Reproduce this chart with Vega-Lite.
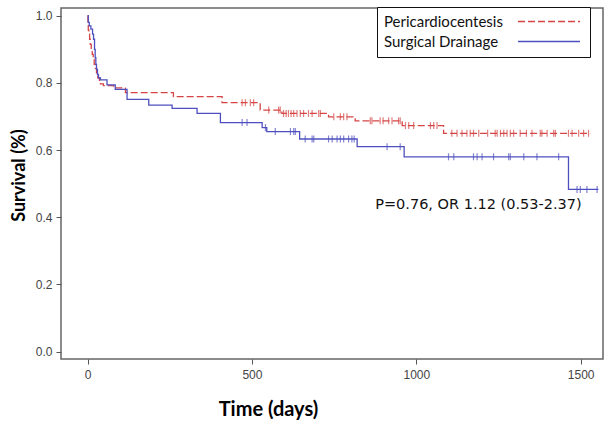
{
  "$schema": "https://vega.github.io/schema/vega-lite/v6.json",
  "width": 542,
  "height": 351,
  "autosize": {"type": "none"},
  "padding": {"left": 61, "top": 8, "right": 9, "bottom": 67},
  "background": "white",
  "config": {
    "view": {"stroke": "#666", "strokeWidth": 1.5},
    "axis": {
      "domain": false, "grid": false, "tickColor": "#555", "tickSize": 5, "tickWidth": 1,
      "labelColor": "#444", "labelFont": "Liberation Sans", "labelFontSize": 12,
      "titleFont": "Lato", "titleFontWeight": "bold", "titleColor": "#000"
    }
  },
  "datasets": {
    "km": [
      {"group": "Pericardiocentesis", "kind": "step", "day": 0, "surv": 1.0},
      {"group": "Pericardiocentesis", "kind": "step", "day": 1, "surv": 0.975},
      {"group": "Pericardiocentesis", "kind": "step", "day": 2, "surv": 0.957},
      {"group": "Pericardiocentesis", "kind": "step", "day": 4, "surv": 0.945},
      {"group": "Pericardiocentesis", "kind": "step", "day": 6, "surv": 0.93},
      {"group": "Pericardiocentesis", "kind": "step", "day": 8, "surv": 0.915},
      {"group": "Pericardiocentesis", "kind": "step", "day": 11, "surv": 0.9},
      {"group": "Pericardiocentesis", "kind": "step", "day": 14, "surv": 0.885},
      {"group": "Pericardiocentesis", "kind": "step", "day": 17, "surv": 0.87},
      {"group": "Pericardiocentesis", "kind": "step", "day": 20, "surv": 0.855},
      {"group": "Pericardiocentesis", "kind": "step", "day": 23, "surv": 0.843},
      {"group": "Pericardiocentesis", "kind": "step", "day": 27, "surv": 0.83},
      {"group": "Pericardiocentesis", "kind": "step", "day": 31, "surv": 0.815},
      {"group": "Pericardiocentesis", "kind": "step", "day": 36, "surv": 0.805},
      {"group": "Pericardiocentesis", "kind": "step", "day": 39, "surv": 0.797},
      {"group": "Pericardiocentesis", "kind": "step", "day": 48, "surv": 0.792},
      {"group": "Pericardiocentesis", "kind": "step", "day": 79, "surv": 0.785},
      {"group": "Pericardiocentesis", "kind": "step", "day": 115, "surv": 0.771},
      {"group": "Pericardiocentesis", "kind": "step", "day": 261, "surv": 0.759},
      {"group": "Pericardiocentesis", "kind": "step", "day": 409, "surv": 0.741},
      {"group": "Pericardiocentesis", "kind": "step", "day": 525, "surv": 0.719},
      {"group": "Pericardiocentesis", "kind": "step", "day": 591, "surv": 0.709},
      {"group": "Pericardiocentesis", "kind": "step", "day": 733, "surv": 0.699},
      {"group": "Pericardiocentesis", "kind": "step", "day": 814, "surv": 0.687},
      {"group": "Pericardiocentesis", "kind": "step", "day": 957, "surv": 0.673},
      {"group": "Pericardiocentesis", "kind": "step", "day": 1083, "surv": 0.65},
      {"group": "Pericardiocentesis", "kind": "step", "day": 1529, "surv": 0.65},
      {"group": "Pericardiocentesis", "kind": "censor", "day": 470, "surv": 0.741},
      {"group": "Pericardiocentesis", "kind": "censor", "day": 480, "surv": 0.741},
      {"group": "Pericardiocentesis", "kind": "censor", "day": 495, "surv": 0.741},
      {"group": "Pericardiocentesis", "kind": "censor", "day": 505, "surv": 0.741},
      {"group": "Pericardiocentesis", "kind": "censor", "day": 551, "surv": 0.719},
      {"group": "Pericardiocentesis", "kind": "censor", "day": 581, "surv": 0.719},
      {"group": "Pericardiocentesis", "kind": "censor", "day": 586, "surv": 0.719},
      {"group": "Pericardiocentesis", "kind": "censor", "day": 596, "surv": 0.709},
      {"group": "Pericardiocentesis", "kind": "censor", "day": 604, "surv": 0.709},
      {"group": "Pericardiocentesis", "kind": "censor", "day": 611, "surv": 0.709},
      {"group": "Pericardiocentesis", "kind": "censor", "day": 619, "surv": 0.709},
      {"group": "Pericardiocentesis", "kind": "censor", "day": 627, "surv": 0.709},
      {"group": "Pericardiocentesis", "kind": "censor", "day": 637, "surv": 0.709},
      {"group": "Pericardiocentesis", "kind": "censor", "day": 647, "surv": 0.709},
      {"group": "Pericardiocentesis", "kind": "censor", "day": 657, "surv": 0.709},
      {"group": "Pericardiocentesis", "kind": "censor", "day": 672, "surv": 0.709},
      {"group": "Pericardiocentesis", "kind": "censor", "day": 683, "surv": 0.709},
      {"group": "Pericardiocentesis", "kind": "censor", "day": 703, "surv": 0.709},
      {"group": "Pericardiocentesis", "kind": "censor", "day": 708, "surv": 0.709},
      {"group": "Pericardiocentesis", "kind": "censor", "day": 749, "surv": 0.699},
      {"group": "Pericardiocentesis", "kind": "censor", "day": 769, "surv": 0.699},
      {"group": "Pericardiocentesis", "kind": "censor", "day": 779, "surv": 0.699},
      {"group": "Pericardiocentesis", "kind": "censor", "day": 789, "surv": 0.699},
      {"group": "Pericardiocentesis", "kind": "censor", "day": 860, "surv": 0.687},
      {"group": "Pericardiocentesis", "kind": "censor", "day": 865, "surv": 0.687},
      {"group": "Pericardiocentesis", "kind": "censor", "day": 890, "surv": 0.687},
      {"group": "Pericardiocentesis", "kind": "censor", "day": 899, "surv": 0.687},
      {"group": "Pericardiocentesis", "kind": "censor", "day": 916, "surv": 0.687},
      {"group": "Pericardiocentesis", "kind": "censor", "day": 926, "surv": 0.687},
      {"group": "Pericardiocentesis", "kind": "censor", "day": 946, "surv": 0.687},
      {"group": "Pericardiocentesis", "kind": "censor", "day": 951, "surv": 0.687},
      {"group": "Pericardiocentesis", "kind": "censor", "day": 967, "surv": 0.673},
      {"group": "Pericardiocentesis", "kind": "censor", "day": 977, "surv": 0.673},
      {"group": "Pericardiocentesis", "kind": "censor", "day": 992, "surv": 0.673},
      {"group": "Pericardiocentesis", "kind": "censor", "day": 1043, "surv": 0.673},
      {"group": "Pericardiocentesis", "kind": "censor", "day": 1053, "surv": 0.673},
      {"group": "Pericardiocentesis", "kind": "censor", "day": 1063, "surv": 0.673},
      {"group": "Pericardiocentesis", "kind": "censor", "day": 1108, "surv": 0.65},
      {"group": "Pericardiocentesis", "kind": "censor", "day": 1124, "surv": 0.65},
      {"group": "Pericardiocentesis", "kind": "censor", "day": 1139, "surv": 0.65},
      {"group": "Pericardiocentesis", "kind": "censor", "day": 1154, "surv": 0.65},
      {"group": "Pericardiocentesis", "kind": "censor", "day": 1164, "surv": 0.65},
      {"group": "Pericardiocentesis", "kind": "censor", "day": 1174, "surv": 0.65},
      {"group": "Pericardiocentesis", "kind": "censor", "day": 1190, "surv": 0.65},
      {"group": "Pericardiocentesis", "kind": "censor", "day": 1217, "surv": 0.65},
      {"group": "Pericardiocentesis", "kind": "censor", "day": 1240, "surv": 0.65},
      {"group": "Pericardiocentesis", "kind": "censor", "day": 1246, "surv": 0.65},
      {"group": "Pericardiocentesis", "kind": "censor", "day": 1256, "surv": 0.65},
      {"group": "Pericardiocentesis", "kind": "censor", "day": 1266, "surv": 0.65},
      {"group": "Pericardiocentesis", "kind": "censor", "day": 1276, "surv": 0.65},
      {"group": "Pericardiocentesis", "kind": "censor", "day": 1286, "surv": 0.65},
      {"group": "Pericardiocentesis", "kind": "censor", "day": 1296, "surv": 0.65},
      {"group": "Pericardiocentesis", "kind": "censor", "day": 1316, "surv": 0.65},
      {"group": "Pericardiocentesis", "kind": "censor", "day": 1335, "surv": 0.65},
      {"group": "Pericardiocentesis", "kind": "censor", "day": 1352, "surv": 0.65},
      {"group": "Pericardiocentesis", "kind": "censor", "day": 1377, "surv": 0.65},
      {"group": "Pericardiocentesis", "kind": "censor", "day": 1382, "surv": 0.65},
      {"group": "Pericardiocentesis", "kind": "censor", "day": 1398, "surv": 0.65},
      {"group": "Pericardiocentesis", "kind": "censor", "day": 1418, "surv": 0.65},
      {"group": "Pericardiocentesis", "kind": "censor", "day": 1423, "surv": 0.65},
      {"group": "Pericardiocentesis", "kind": "censor", "day": 1463, "surv": 0.65},
      {"group": "Pericardiocentesis", "kind": "censor", "day": 1474, "surv": 0.65},
      {"group": "Pericardiocentesis", "kind": "censor", "day": 1494, "surv": 0.65},
      {"group": "Pericardiocentesis", "kind": "censor", "day": 1509, "surv": 0.65},
      {"group": "Pericardiocentesis", "kind": "censor", "day": 1524, "surv": 0.65},
      {"group": "Surgical Drainage", "kind": "step", "day": 0, "surv": 1.0},
      {"group": "Surgical Drainage", "kind": "step", "day": 2, "surv": 0.98},
      {"group": "Surgical Drainage", "kind": "step", "day": 5, "surv": 0.97},
      {"group": "Surgical Drainage", "kind": "step", "day": 10, "surv": 0.96},
      {"group": "Surgical Drainage", "kind": "step", "day": 15, "surv": 0.945},
      {"group": "Surgical Drainage", "kind": "step", "day": 18, "surv": 0.93},
      {"group": "Surgical Drainage", "kind": "step", "day": 21, "surv": 0.9},
      {"group": "Surgical Drainage", "kind": "step", "day": 23, "surv": 0.875},
      {"group": "Surgical Drainage", "kind": "step", "day": 25, "surv": 0.855},
      {"group": "Surgical Drainage", "kind": "step", "day": 27, "surv": 0.84},
      {"group": "Surgical Drainage", "kind": "step", "day": 30, "surv": 0.825},
      {"group": "Surgical Drainage", "kind": "step", "day": 33, "surv": 0.815},
      {"group": "Surgical Drainage", "kind": "step", "day": 39, "surv": 0.809},
      {"group": "Surgical Drainage", "kind": "step", "day": 59, "surv": 0.794},
      {"group": "Surgical Drainage", "kind": "step", "day": 84, "surv": 0.781},
      {"group": "Surgical Drainage", "kind": "step", "day": 120, "surv": 0.751},
      {"group": "Surgical Drainage", "kind": "step", "day": 186, "surv": 0.734},
      {"group": "Surgical Drainage", "kind": "step", "day": 257, "surv": 0.724},
      {"group": "Surgical Drainage", "kind": "step", "day": 333, "surv": 0.709},
      {"group": "Surgical Drainage", "kind": "step", "day": 404, "surv": 0.682},
      {"group": "Surgical Drainage", "kind": "step", "day": 531, "surv": 0.667},
      {"group": "Surgical Drainage", "kind": "step", "day": 545, "surv": 0.655},
      {"group": "Surgical Drainage", "kind": "step", "day": 645, "surv": 0.633},
      {"group": "Surgical Drainage", "kind": "step", "day": 820, "surv": 0.61},
      {"group": "Surgical Drainage", "kind": "step", "day": 963, "surv": 0.58},
      {"group": "Surgical Drainage", "kind": "step", "day": 1463, "surv": 0.483},
      {"group": "Surgical Drainage", "kind": "step", "day": 1554, "surv": 0.483},
      {"group": "Surgical Drainage", "kind": "censor", "day": 470, "surv": 0.682},
      {"group": "Surgical Drainage", "kind": "censor", "day": 485, "surv": 0.682},
      {"group": "Surgical Drainage", "kind": "censor", "day": 541, "surv": 0.667},
      {"group": "Surgical Drainage", "kind": "censor", "day": 571, "surv": 0.655},
      {"group": "Surgical Drainage", "kind": "censor", "day": 617, "surv": 0.655},
      {"group": "Surgical Drainage", "kind": "censor", "day": 627, "surv": 0.655},
      {"group": "Surgical Drainage", "kind": "censor", "day": 632, "surv": 0.655},
      {"group": "Surgical Drainage", "kind": "censor", "day": 662, "surv": 0.633},
      {"group": "Surgical Drainage", "kind": "censor", "day": 683, "surv": 0.633},
      {"group": "Surgical Drainage", "kind": "censor", "day": 688, "surv": 0.633},
      {"group": "Surgical Drainage", "kind": "censor", "day": 733, "surv": 0.633},
      {"group": "Surgical Drainage", "kind": "censor", "day": 744, "surv": 0.633},
      {"group": "Surgical Drainage", "kind": "censor", "day": 759, "surv": 0.633},
      {"group": "Surgical Drainage", "kind": "censor", "day": 769, "surv": 0.633},
      {"group": "Surgical Drainage", "kind": "censor", "day": 779, "surv": 0.633},
      {"group": "Surgical Drainage", "kind": "censor", "day": 794, "surv": 0.633},
      {"group": "Surgical Drainage", "kind": "censor", "day": 804, "surv": 0.633},
      {"group": "Surgical Drainage", "kind": "censor", "day": 811, "surv": 0.633},
      {"group": "Surgical Drainage", "kind": "censor", "day": 911, "surv": 0.61},
      {"group": "Surgical Drainage", "kind": "censor", "day": 951, "surv": 0.61},
      {"group": "Surgical Drainage", "kind": "censor", "day": 1098, "surv": 0.58},
      {"group": "Surgical Drainage", "kind": "censor", "day": 1114, "surv": 0.58},
      {"group": "Surgical Drainage", "kind": "censor", "day": 1174, "surv": 0.58},
      {"group": "Surgical Drainage", "kind": "censor", "day": 1185, "surv": 0.58},
      {"group": "Surgical Drainage", "kind": "censor", "day": 1200, "surv": 0.58},
      {"group": "Surgical Drainage", "kind": "censor", "day": 1235, "surv": 0.58},
      {"group": "Surgical Drainage", "kind": "censor", "day": 1281, "surv": 0.58},
      {"group": "Surgical Drainage", "kind": "censor", "day": 1286, "surv": 0.58},
      {"group": "Surgical Drainage", "kind": "censor", "day": 1327, "surv": 0.58},
      {"group": "Surgical Drainage", "kind": "censor", "day": 1367, "surv": 0.58},
      {"group": "Surgical Drainage", "kind": "censor", "day": 1433, "surv": 0.58},
      {"group": "Surgical Drainage", "kind": "censor", "day": 1489, "surv": 0.483},
      {"group": "Surgical Drainage", "kind": "censor", "day": 1499, "surv": 0.483},
      {"group": "Surgical Drainage", "kind": "censor", "day": 1519, "surv": 0.483},
      {"group": "Surgical Drainage", "kind": "censor", "day": 1550, "surv": 0.483}
    ]
  },
  "layer": [
    {
      "data": {"name": "km"},
      "transform": [{"filter": "datum.kind === 'step'"}],
      "mark": {"type": "line", "interpolate": "step-after", "strokeWidth": 1.3},
      "encoding": {
        "x": {
          "field": "day", "type": "quantitative",
          "scale": {"domain": [-81, 1568], "nice": false, "zero": false},
          "axis": {"values": [0, 500, 1000, 1500], "format": "d", "title": "Time (days)", "labelPadding": 5,
                   "titleFontSize": 20, "titleX": 207, "titleY": 50, "titleAlign": "center", "titleBaseline": "middle"}
        },
        "y": {
          "field": "surv", "type": "quantitative",
          "scale": {"domain": [-0.022, 1.023], "nice": false, "zero": false},
          "axis": {"values": [0, 0.2, 0.4, 0.6, 0.8, 1.0], "format": ".1f", "title": "Survival (%)", "labelPadding": 4,
                   "titleFontSize": 18, "titleX": -42, "titleY": 167, "titleAngle": -90, "titleAlign": "center", "titleBaseline": "middle"}
        },
        "color": {
          "field": "group", "type": "nominal",
          "scale": {"domain": ["Pericardiocentesis", "Surgical Drainage"], "range": ["#d64545", "#4e4fbf"]},
          "legend": {
            "title": null, "orient": "none", "legendX": 316, "legendY": -1,
            "padding": 7, "strokeColor": "#111", "fillColor": "white",
            "labelFont": "Lato", "labelFontSize": 15, "labelColor": "#111",
            "symbolType": "stroke", "symbolSize": 100, "symbolStrokeWidth": 1.5, "rowPadding": 4,
            "encode": {
              "labels": {"update": {"x": {"value": 0}}},
              "symbols": {"update": {
                "x": {"value": 165},
                "shape": {"value": "M-6.2,0H6.2"},
                "strokeDash": {"signal": "datum.value === 'Pericardiocentesis' ? [3, 2] : [1, 0]"}
              }}
            }
          }
        },
        "strokeDash": {
          "field": "group", "type": "nominal",
          "scale": {"domain": ["Pericardiocentesis", "Surgical Drainage"], "range": [[7, 3], [1, 0]]},
          "legend": null
        }
      }
    },
    {
      "data": {"name": "km"},
      "transform": [{"filter": "datum.kind === 'censor'"}],
      "mark": {"type": "tick", "orient": "vertical", "size": 7, "thickness": 1.2},
      "encoding": {
        "x": {"field": "day", "type": "quantitative"},
        "y": {"field": "surv", "type": "quantitative"},
        "color": {"field": "group", "type": "nominal", "legend": null}
      }
    },
    {
      "data": {"values": [{"note": "P=0.76, OR 1.12 (0.53-2.37)"}]},
      "mark": {"type": "text", "font": "DejaVu Sans", "fontSize": 14.5, "color": "#111", "align": "center", "baseline": "alphabetic"},
      "encoding": {
        "x": {"datum": 1189},
        "y": {"datum": 0.425},
        "text": {"field": "note", "type": "nominal"}
      }
    }
  ]
}
